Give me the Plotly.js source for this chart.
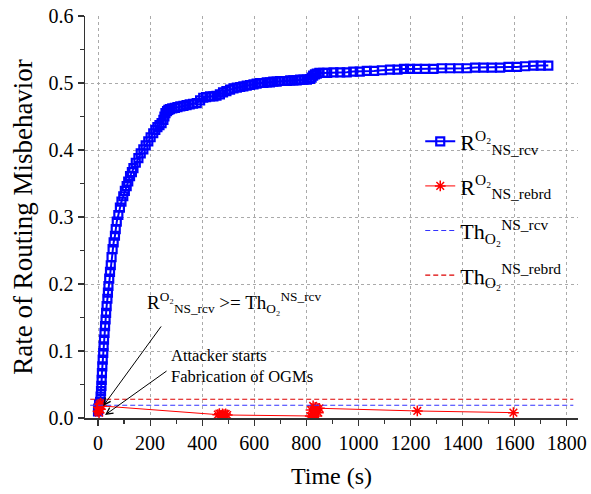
<!DOCTYPE html>
<html>
<head>
<meta charset="utf-8">
<script src="https://cdn.plot.ly/plotly-3.0.1.min.js"></script>
<style>html,body{margin:0;padding:0;background:#fff;}#chart{width:591px;height:494px;}</style>
</head>
<body>
<div id="chart"></div>
<script>
// Rate of routing misbehaviour R^O2_NS_rcv (blue squares)
const rcvTime = [0, 1, 4, 8, 10, 11.5, 13, 14, 15, 16.5, 18, 20, 21.5, 23, 25, 27, 29, 31, 33, 36, 38, 40, 43, 46, 49, 52, 56, 60, 65, 68, 72, 78, 84, 90, 97, 103, 110, 116, 123, 130, 136, 145, 155, 164, 174, 183, 193, 202, 212, 220, 228, 236, 244, 251, 255, 259, 265, 270, 276, 285, 295, 305, 316, 328, 340, 352, 365, 379, 392, 404, 415, 430, 443, 455, 468, 480, 493, 507, 520, 533, 546, 558, 571, 584, 597, 609, 622, 635, 648, 660, 673, 686, 699, 712, 725, 738, 750, 763, 776, 789, 802, 814, 820, 826, 833, 840, 850, 865, 880, 904, 930, 955, 980, 1005, 1032, 1060, 1090, 1121, 1150, 1175, 1198, 1225, 1255, 1288, 1320, 1352, 1384, 1416, 1448, 1480, 1512, 1544, 1576, 1608, 1640, 1672, 1700, 1729];
const rcvRate = [0.010, 0.014, 0.020, 0.024, 0.032, 0.040, 0.048, 0.057, 0.067, 0.077, 0.087, 0.097, 0.107, 0.117, 0.127, 0.137, 0.147, 0.157, 0.167, 0.178, 0.187, 0.197, 0.208, 0.218, 0.228, 0.240, 0.252, 0.262, 0.272, 0.282, 0.293, 0.303, 0.314, 0.323, 0.331, 0.339, 0.346, 0.353, 0.361, 0.367, 0.373, 0.381, 0.388, 0.395, 0.401, 0.407, 0.413, 0.419, 0.425, 0.430, 0.434, 0.437, 0.440, 0.445, 0.450, 0.455, 0.458, 0.460, 0.461, 0.462, 0.463, 0.464, 0.465, 0.466, 0.467, 0.468, 0.469, 0.470, 0.474, 0.478, 0.479, 0.480, 0.480, 0.481, 0.483, 0.486, 0.488, 0.490, 0.492, 0.493, 0.494, 0.495, 0.496, 0.497, 0.498, 0.499, 0.500, 0.500, 0.501, 0.501, 0.502, 0.502, 0.503, 0.503, 0.503, 0.504, 0.504, 0.504, 0.505, 0.505, 0.505, 0.506, 0.508, 0.511, 0.513, 0.514, 0.515, 0.515, 0.515, 0.516, 0.516, 0.516, 0.517, 0.517, 0.518, 0.518, 0.519, 0.520, 0.520, 0.521, 0.521, 0.521, 0.521, 0.521, 0.522, 0.522, 0.522, 0.522, 0.523, 0.523, 0.523, 0.523, 0.524, 0.524, 0.525, 0.526, 0.526, 0.526, 0.527, 0.527];

// Rate of routing misbehaviour R^O2_NS_rebrd (red asterisks)
const rebrdTime = [0, 2, 4, 6, 8, 10, 14, 460, 466, 472, 478, 484, 490, 496, 815, 818, 822, 826, 830, 834, 838, 842, 846, 850, 1226, 1595];
const rebrdRate = [0.010, 0.016, 0.008, 0.020, 0.013, 0.022, 0.018, 0.005, 0.0065, 0.004, 0.006, 0.005, 0.006, 0.0045, 0.003, 0.012, 0.002, 0.018, 0.006, 0.016, 0.003, 0.014, 0.008, 0.0145, 0.0105, 0.008];

// Thresholds
const thrTime = [-30, 1825];
const thRcv = [0.019, 0.019];
const thRebrd = [0.028, 0.028];

const xTicks = [0, 200, 400, 600, 800, 1000, 1200, 1400, 1600, 1800];
const yTicks = [0, 0.1, 0.2, 0.3, 0.4, 0.5, 0.6];
const yTickText = ['0.0', '0.1', '0.2', '0.3', '0.4', '0.5', '0.6'];

const FONT = '"Liberation Serif", "Times New Roman", "DejaVu Serif", serif';
const sub2 = '\u2082';

const traces = [
  {
    x: rcvTime, y: rcvRate, type: 'scatter', mode: 'lines+markers', legendgroup: 'a',
    name: 'R<sup>O' + sub2 + '</sup><sub>NS_rcv</sub>',
    line: {color: '#0000ff', width: 2},
    marker: {symbol: 'square-open', size: 8, color: '#0000ff', line: {color: '#0000ff', width: 2.2}}
  },
  {
    x: rebrdTime, y: rebrdRate, type: 'scatter', mode: 'lines+markers', legendgroup: 'b',
    name: 'R<sup>O' + sub2 + '</sup><sub>NS_rebrd</sub>',
    line: {color: '#ff0000', width: 1},
    marker: {symbol: 'asterisk-open', size: 9, color: '#ff0000', line: {color: '#ff0000', width: 1.5}}
  },
  {
    x: thrTime, y: thRcv, type: 'scatter', mode: 'lines', legendgroup: 'c',
    name: 'Th<sub>O' + sub2 + '</sub><sup>NS_rcv</sup>',
    line: {color: '#3333ff', width: 1.2, dash: '5px,3px'}
  },
  {
    x: thrTime, y: thRebrd, type: 'scatter', mode: 'lines', legendgroup: 'd',
    name: 'Th<sub>O' + sub2 + '</sub><sup>NS_rebrd</sup>',
    line: {color: '#dd0000', width: 1.2, dash: '5px,3px'}
  }
];

const xRange = [-50, 1843];
const yRange = [0, 0.6];

const layout = {
  width: 591, height: 494,
  margin: {l: 85, r: 13, t: 16, b: 76},
  paper_bgcolor: '#ffffff', plot_bgcolor: '#ffffff',
  font: {family: FONT, color: '#000'},
  showlegend: true,
  legend: {
    x: 0.68, y: 0.74, xanchor: 'left', yanchor: 'top',
    bgcolor: 'rgba(0,0,0,0)', borderwidth: 0,
    font: {family: FONT, size: 22, color: '#000'},
    tracegroupgap: 13
  },
  xaxis: {
    range: xRange, tickvals: xTicks, ticktext: xTicks.map(String),
    ticks: 'outside', ticklen: 6, tickwidth: 1.2, tickcolor: '#333',
    minor: {dtick: 100, tick0: 0, ticks: 'outside', ticklen: 4, tickwidth: 1.2, tickcolor: '#333', showgrid: false},
    showline: true, linecolor: '#333', linewidth: 1.5, mirror: false,
    showgrid: true, gridcolor: '#aaaaaa', griddash: 'dot', gridwidth: 1,
    zeroline: false,
    tickfont: {family: FONT, size: 20, color: '#000'},
    title: {text: 'Time (s)', font: {family: FONT, size: 24, color: '#000'}, standoff: 14}
  },
  yaxis: {
    range: yRange, tickvals: yTicks, ticktext: yTickText,
    ticks: 'outside', ticklen: 6, tickwidth: 1.2, tickcolor: '#333',
    minor: {dtick: 0.05, tick0: 0, ticks: 'outside', ticklen: 4, tickwidth: 1.2, tickcolor: '#333', showgrid: false},
    showline: true, linecolor: '#333', linewidth: 1.5, mirror: false,
    showgrid: true, gridcolor: '#aaaaaa', griddash: 'dot', gridwidth: 1,
    zeroline: false,
    tickfont: {family: FONT, size: 20, color: '#000'},
    title: {text: 'Rate of Routing Misbehavior', font: {family: FONT, size: 27, color: '#000'}, standoff: 8}
  },
  xaxis2: {
    overlaying: 'x', anchor: 'y', side: 'top', range: xRange,
    tickvals: xTicks, showticklabels: false,
    ticks: 'inside', ticklen: 6, tickwidth: 1.2, tickcolor: '#333',
    minor: {dtick: 100, tick0: 0, ticks: 'inside', ticklen: 4, tickwidth: 1.2, tickcolor: '#333', showgrid: false},
    showline: true, linecolor: '#333', linewidth: 1.5, showgrid: false, zeroline: false
  },
  yaxis2: {
    overlaying: 'y', anchor: 'x', side: 'right', range: yRange,
    tickvals: yTicks, showticklabels: false,
    ticks: 'inside', ticklen: 6, tickwidth: 1.2, tickcolor: '#333',
    minor: {dtick: 0.05, tick0: 0, ticks: 'inside', ticklen: 4, tickwidth: 1.2, tickcolor: '#333', showgrid: false},
    showline: true, linecolor: '#333', linewidth: 1.5, showgrid: false, zeroline: false
  },
  annotations: [
    {
      xref: 'x', yref: 'y', x: 180, y: 0.172, xanchor: 'left', yanchor: 'middle',
      text: 'R<sup>O' + sub2 + '</sup><sub>NS_rcv</sub> >= Th<sub>O' + sub2 + '</sub><sup>NS_rcv</sup>',
      showarrow: false, font: {family: FONT, size: 19, color: '#000'}
    },
    {
      xref: 'x', yref: 'y', x: 273, y: 0.078, xanchor: 'left', yanchor: 'middle', align: 'left',
      text: 'Attacker starts<br>Fabrication of OGMs',
      showarrow: false, font: {family: FONT, size: 16.5, color: '#000'}
    },
    {
      xref: 'x', yref: 'y', x: 20, y: 0.018, text: '', showarrow: true,
      ax: 59, ay: -81, arrowhead: 5, arrowsize: 1.3, arrowwidth: 1, arrowcolor: '#000'
    },
    {
      xref: 'x', yref: 'y', x: 27, y: 0.0045, text: '', showarrow: true,
      ax: 63, ay: -45, arrowhead: 5, arrowsize: 1.3, arrowwidth: 1, arrowcolor: '#000'
    }
  ]
};

Plotly.newPlot('chart', traces, layout, {displayModeBar: false, staticPlot: true});
</script>
</body>
</html>
